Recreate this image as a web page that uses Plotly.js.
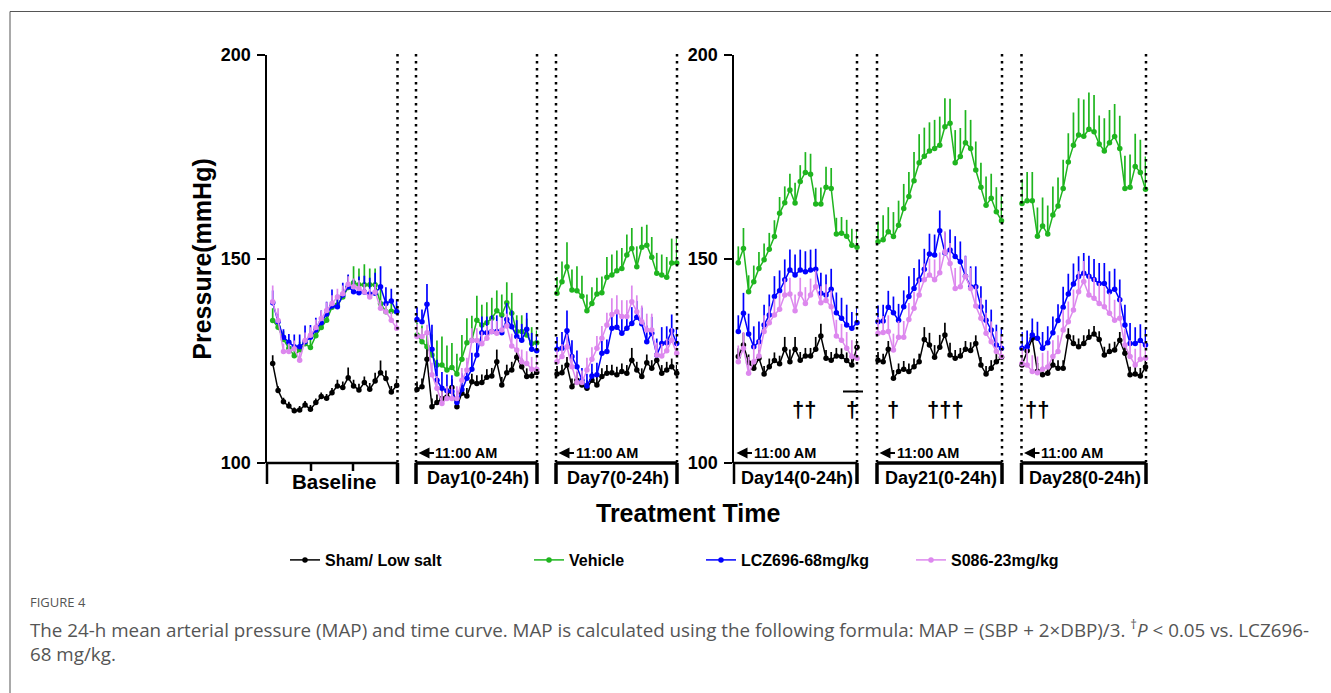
<!DOCTYPE html>
<html>
<head>
<meta charset="utf-8">
<script src="https://cdn.plot.ly/plotly-3.0.1.min.js"></script>
<style>html,body{margin:0;padding:0;background:#fff;}#chart{width:1331px;height:693px;}</style>
</head>
<body>
<div id="chart"></div>
<script>
// ---------------- DATA ----------------
const seriesNames = ['Sham/ Low salt', 'Vehicle', 'LCZ696-68mg/kg', 'S086-23mg/kg'];
const panelLabels = ['Baseline', 'Day1(0-24h)', 'Day7(0-24h)', 'Day14(0-24h)', 'Day21(0-24h)', 'Day28(0-24h)'];
const yTickVals = [100, 150, 200];
const yTickText = ['100', '150', '200'];
const clockLabel = '11:00 AM';

// Baseline (24 hourly means)
const shamBaseline    = [124.4,117.8,115.0,114.0,112.8,113.0,114.2,113.2,114.8,116.3,115.9,117.2,118.9,118.5,120.9,118.9,117.9,119.7,118.1,120.1,122.1,120.7,117.4,119.0];
const vehicleBaseline = [134.9,133.3,130.3,128.1,126.3,127.7,129.2,128.3,131.2,133.2,135.0,138.2,138.7,140.7,143.0,144.2,143.7,143.7,143.7,143.7,139.1,137.1,137.2,137.1];
const lczBaseline     = [139.3,134.6,130.8,129.6,128.5,128.5,129.7,130.8,132.6,134.4,136.5,138.5,138.3,141.2,143.2,142.0,141.7,141.9,141.4,141.6,143.2,139.1,139.7,137.1];
const s086Baseline    = [139.5,134.9,127.3,127.3,128.0,125.2,130.0,131.3,133.2,135.4,137.4,139.1,140.7,141.5,143.8,143.2,142.8,141.9,140.7,141.9,137.9,137.1,135.0,133.0];
const shamBaselineErr    = [2,1,1,1,0.8,1,1,1,1,1,1,1.2,1.5,1.5,2.5,1.5,1.5,1.5,1.5,2,3,2,1.5,1.5];
const vehicleBaselineErr = [3,2,2,2,2,2,2,2,3,2,2,2,2,2,3,4,4,5,4,4,4,3,2,2];
const lczBaselineErr     = [3,2,2,2,3,3,4,3,3,3,3,4,3,3,3,3,4,4,4,5,5,4,3,3];
const s086BaselineErr    = [4,3,2,2,2,2,2,2,2,2,2,2,2,2,2,2,2,2,2,2,2,2,2,2];

// Day 1 (0-24h)
const shamDay1    = [118.0,118.7,125.4,113.8,114.8,115.8,116.2,118.5,113.8,117.1,116.4,119.9,119.5,119.7,121.0,121.3,124.8,119.1,122.1,122.8,125.9,123.6,121.2,121.3,122.2];
const vehicleDay1 = [131.4,129.7,128.5,126.5,124.0,124.0,122.8,123.4,121.8,125.4,129.5,130.1,135.0,133.8,134.4,135.5,137.3,136.3,139.3,136.7,132.2,132.2,131.4,129.3,129.5];
const lczDay1     = [135.2,134.6,138.9,127.9,120.3,118.3,117.7,117.5,114.8,118.0,120.8,123.0,126.5,131.9,131.9,132.2,132.2,131.9,135.2,133.4,131.0,130.1,132.8,127.9,127.5];
const s086Day1    = [131.0,131.0,131.9,121.6,118.3,114.6,115.8,115.8,115.8,120.3,122.8,130.0,130.0,129.2,130.6,132.2,131.8,132.6,133.6,128.7,127.7,124.8,124.4,123.0,123.0];
const shamDay1Err    = [2,2,3,2,2,2,2,2,2,2,2,2,2,2,2,2,3,2,2,2,2,2,2,1.5,1.5];
const vehicleDay1Err = [3,4,4,5,6,7,6,6,5,6,6,6,6,5,5,5,5,5,5,5,4,4,4,4,3];
const lczDay1Err     = [3,3,5,6,5,4,4,4,3,4,4,4,4,4,4,4,4,4,4,4,4,4,4,4,4];
const s086Day1Err    = [3,2,2,3,3,3,3,3,3,3,3,3,3,3,3,3,3,3,3,3,3,3,3,3,3];

// Day 7 (0-24h)
const shamDay7    = [121.8,122.1,124.0,118.7,120.3,119.1,118.3,120.3,119.1,121.2,122.0,122.1,121.6,122.4,122.0,125.2,122.8,121.2,124.6,123.2,125.2,122.0,122.8,123.6,122.0];
const vehicleDay7 = [141.6,144.4,148.1,142.4,142.2,140.9,137.3,139.1,141.4,141.7,145.5,146.1,147.1,147.7,151.0,152.6,148.1,152.9,153.4,150.4,146.5,146.1,145.5,149.0,149.0];
const lczDay7     = [127.9,128.1,132.4,126.1,123.6,120.3,118.9,121.3,121.6,126.9,127.3,133.0,133.3,131.8,133.0,134.2,135.7,134.1,129.7,131.8,126.5,129.3,129.5,132.4,129.3];
const s086Day7    = [124.8,126.1,128.5,123.6,119.7,119.7,122.8,125.4,128.1,130.6,133.8,136.4,137.1,135.9,135.9,139.5,137.1,134.6,132.6,132.6,126.5,126.2,127.5,130.1,126.9];
const shamDay7Err    = [2,2,2,2,2,2,2,2,2,2,2,2,2,2,2,3,2,2,2,2,2,2,2,2,2];
const vehicleDay7Err = [4,5,6,5,6,5,4,4,4,4,5,5,5,5,5,5,5,5,5,5,5,5,5,6,6];
const lczDay7Err     = [3,4,5,4,4,3,3,3,3,3,3,4,4,4,4,4,4,4,4,4,4,4,4,4,4];
const s086Day7Err    = [3,3,3,3,3,3,3,3,3,3,3,4,4,4,4,4,4,4,4,4,3,3,3,3,3];

// Day 14 (0-24h)
const shamDay14    = [126.1,128.9,124.6,123.2,125.7,121.8,123.6,125.1,124.3,127.9,124.8,127.9,125.2,126.2,126.2,127.9,131.1,125.7,125.2,126.2,126.1,125.1,124.0,128.4];
const vehicleDay14 = [149.1,152.6,142.0,144.4,147.7,149.8,152.4,155.5,161.2,163.8,166.9,163.7,169.0,171.2,170.8,163.5,163.5,167.6,167.3,156.1,156.3,155.6,153.4,152.9];
const lczDay14     = [132.2,136.7,131.6,128.5,129.7,133.8,136.3,140.8,142.2,144.9,147.3,146.1,147.3,146.9,147.3,147.5,141.6,141.2,142.6,136.8,135.5,133.8,133.0,134.4];
const s086Day14    = [124.8,128.1,122.0,124.8,126.2,132.2,134.4,136.3,137.7,141.2,141.4,137.3,141.4,139.1,141.2,143.2,139.3,139.8,138.3,131.1,130.1,128.1,126.1,125.7];
const shamDay14Err    = [2,3,2,2,2,2,2,2,2,3,3,3,2,2,2,3,3,2,2,2,2,2,2,2];
const vehicleDay14Err = [4,5,4,4,4,4,4,4,4,4,4,5,4,5,5,4,4,5,5,4,4,4,4,4];
const lczDay14Err     = [4,5,5,5,5,5,5,5,5,5,5,5,5,5,5,5,5,5,5,5,5,5,4,4];
const s086Day14Err    = [4,4,4,4,4,4,4,4,4,4,4,4,4,4,4,4,4,4,4,4,4,4,4,3];

// Day 21 (0-24h)
const shamDay21    = [125.2,124.8,127.9,120.8,122.4,123.0,122.4,123.6,124.8,130.3,128.9,125.9,128.4,131.4,126.5,125.7,126.2,127.9,127.6,129.3,124.0,121.8,123.2,124.8,125.9];
const vehicleDay21 = [154.2,154.7,156.7,155.5,158.3,162.4,165.3,169.2,173.6,175.2,176.5,177.1,177.9,182.4,183.3,173.6,175.1,178.5,177.1,171.8,167.6,163.2,164.9,161.6,159.4];
const lczDay21     = [134.6,134.8,138.2,136.8,135.0,138.3,140.8,142.8,144.9,147.5,151.2,151.0,156.9,151.5,152.2,150.6,149.3,145.8,143.2,143.2,138.3,135.0,132.6,128.9,128.1];
const s086Day21    = [131.8,132.0,132.2,127.7,130.8,130.8,135.2,137.9,141.2,144.9,146.1,144.9,146.6,151.8,148.9,142.8,143.2,145.7,142.8,138.5,135.5,131.8,129.7,127.3,126.1];
const shamDay21Err    = [2,2,2,2,2,2,2,2,2,3,3,3,3,3,3,2,2,2,2,2,2,2,2,2,2];
const vehicleDay21Err = [5,6,6,6,6,6,6,7,7,7,7,7,7,7,6,8,7,8,7,7,6,7,6,6,6];
const lczDay21Err     = [4,4,4,4,4,4,5,5,5,5,5,5,5,5,5,5,5,5,5,5,5,5,5,5,5];
const s086Day21Err    = [4,4,4,4,4,4,4,4,4,4,4,5,5,5,5,5,5,5,5,5,5,5,5,5,5];

// Day 28 (0-24h)
const shamDay28    = [124.0,127.5,130.6,122.5,121.6,122.0,124.0,123.2,123.2,131.0,129.3,128.5,129.3,130.8,131.6,130.3,126.5,127.3,127.7,130.1,126.9,121.6,121.8,121.3,123.5];
const vehicleDay28 = [163.6,164.3,164.3,155.6,158.1,156.1,160.8,163.0,167.3,173.8,177.9,180.4,180.1,181.8,181.2,178.2,176.5,178.5,180.0,177.1,167.3,167.6,172.7,171.2,167.1];
const lczDay28     = [128.1,128.5,131.4,130.6,128.1,129.5,131.9,134.9,138.2,141.4,143.9,145.7,146.5,145.8,145.0,144.0,144.0,142.0,142.6,140.0,133.8,129.3,129.3,130.0,128.9];
const s086Day28    = [124.4,124.0,122.4,122.1,123.0,123.5,126.1,127.3,132.6,134.6,137.5,142.0,144.5,141.2,140.4,139.1,138.3,136.7,135.0,135.5,128.9,126.1,124.0,125.4,125.7];
const shamDay28Err    = [2,2,2,2,2,2,2,2,2,2,2,2,2,2,2,2,2,2,2,2,2,2,2,2,2];
const vehicleDay28Err = [6,7,7,7,7,7,7,7,7,7,8,9,9,9,9,7,8,8,8,8,8,8,8,8,8];
const lczDay28Err     = [4,4,4,4,4,4,4,4,5,5,5,5,5,5,5,5,5,5,5,5,5,5,4,4,4];
const s086Day28Err    = [4,4,4,4,4,4,4,4,5,5,5,5,5,5,5,5,5,5,5,5,4,4,4,4,4];

// significance marks (panel index, hour, text)
const sigPanel = [3, 3, 4, 4, 5];
const sigHour  = [12.7, 22.1, 2.9, 13.1, 2.9];
const sigText  = ['††', '†', '†', '†††', '††'];

// ---------------- STYLE / LAYOUT ----------------
const W = 1331, H = 693;
const FONT = 'Liberation Sans, Arial, Helvetica, sans-serif';
const px = x => x / W;
const py = y => 1 - y / H;
const colors = ['#000000', '#1fb51f', '#0000ff', '#dd88ee'];
const legendIds = ['legend', 'legend2', 'legend3', 'legend4'];
const legendLeft = [285, 529, 701, 911];

const panels = [
  {series:[shamBaseline, vehicleBaseline, lczBaseline, s086Baseline], errs:[shamBaselineErr, vehicleBaselineErr, lczBaselineErr, s086BaselineErr], left:267, right:397.5, first:272.7, last:396.7},
  {series:[shamDay1, vehicleDay1, lczDay1, s086Day1], errs:[shamDay1Err, vehicleDay1Err, lczDay1Err, s086Day1Err], left:416, right:537, first:417, last:536.7},
  {series:[shamDay7, vehicleDay7, lczDay7, s086Day7], errs:[shamDay7Err, vehicleDay7Err, lczDay7Err, s086Day7Err], left:556, right:677, first:557, last:676.7},
  {series:[shamDay14, vehicleDay14, lczDay14, s086Day14], errs:[shamDay14Err, vehicleDay14Err, lczDay14Err, s086Day14Err], left:734, right:857, first:738.3, last:857},
  {series:[shamDay21, vehicleDay21, lczDay21, s086Day21], errs:[shamDay21Err, vehicleDay21Err, lczDay21Err, s086Day21Err], left:877, right:1002, first:878, last:1001.5},
  {series:[shamDay28, vehicleDay28, lczDay28, s086Day28], errs:[shamDay28Err, vehicleDay28Err, lczDay28Err, s086Day28Err], left:1021.5, right:1146, first:1022, last:1145.5}
];

const Y_BOT = 463, Y_TOP = 55;
const traces = [];
const layout = {
  width: W, height: H,
  margin: {l:0, r:0, t:0, b:0},
  paper_bgcolor: '#ffffff', plot_bgcolor: 'rgba(0,0,0,0)',
  showlegend: true,
  font: {family: FONT, color: '#000'},
  shapes: [], annotations: []
};

panels.forEach((p, i) => {
  const xa = i === 0 ? 'x' : 'x' + (i + 1);
  const ya = i < 3 ? 'y' : 'y2';
  const n = p.series[0].length;
  const step = (p.last - p.first) / (n - 1);
  layout[i === 0 ? 'xaxis' : 'xaxis' + (i + 1)] = {
    domain: [px(p.left), px(p.right)],
    range: [-(p.first - p.left) / step, (n - 1) + (p.right - p.last) / step],
    anchor: ya, visible: false, fixedrange: true
  };
  p.series.forEach((vals, s) => {
    traces.push({
      type: 'scatter', mode: 'lines+markers',
      x: vals.map((_, k) => k), y: vals,
      xaxis: xa, yaxis: ya,
      name: seriesNames[s], legend: legendIds[s], showlegend: i === 0,
      line: {color: colors[s], width: 1.5},
      marker: {color: colors[s], size: 5.5},
      error_y: {type: 'data', symmetric: false, array: p.errs[s], arrayminus: vals.map(() => 0),
                color: colors[s], thickness: 1.7, width: 0},
      cliponaxis: false, hoverinfo: 'skip'
    });
  });
});

const yCommon = {
  domain: [py(Y_BOT), py(Y_TOP)], range: [100, 200],
  tickvals: yTickVals, ticktext: yTickText,
  ticks: 'outside', ticklen: 8, tickwidth: 2.5, tickcolor: '#000',
  showline: true, linewidth: 2.5, linecolor: '#000',
  showgrid: false, zeroline: false, fixedrange: true, ticklabelstandoff: 2,
  tickfont: {family: FONT, size: 18, weight: 'bold', color: '#000'}
};
layout.yaxis = Object.assign({}, yCommon, {anchor: 'x',
  title: {text: 'Pressure(mmHg)', font: {family: FONT, size: 25, weight: 'bold', color: '#000'}, standoff: 2}});
layout.yaxis2 = Object.assign({}, yCommon, {anchor: 'x4'});

// legends
legendIds.forEach((id, s) => {
  layout[id] = {orientation: 'h', x: px(legendLeft[s]), xanchor: 'left', y: py(560), yanchor: 'middle',
    bgcolor: 'rgba(0,0,0,0)', borderwidth: 0,
    font: {family: FONT, size: 16, weight: 'bold', color: '#000'}};
});

// frame
const line = (x0, y0, x1, y1, w, extra) => Object.assign({type: 'line', xref: 'paper', yref: 'paper',
  x0: px(x0), y0: py(y0), x1: px(x1), y1: py(y1), line: {color: '#000', width: w}}, extra || {});
layout.shapes.push(line(10, 11.5, W, 11.5, 1, {line: {color: '#555', width: 1}}));
layout.shapes.push(line(10, 11.5, 10, H, 1, {line: {color: '#555', width: 1}}));

// dotted dividers
const dotted = {line: {color: '#000', width: 2.5, dash: '2.5px,4.5px'}};
[[397.5], [416, 537], [556, 677], [857], [877, 1002], [1021.5, 1146]].forEach(arr => {
  arr.forEach(x => layout.shapes.push(line(x, Y_TOP - 1, x, Y_BOT, 2.5, dotted)));
});

// brackets under each panel
const BR = 484;
panels.forEach((p, i) => {
  const isAxisPanel = (i === 0 || i === 3);
  layout.shapes.push(line(p.left, Y_BOT, p.right, Y_BOT, isAxisPanel ? 2.5 : 3.5));
  layout.shapes.push(line(p.left, Y_BOT, p.left, BR, isAxisPanel ? 2.5 : 3.5));
  layout.shapes.push(line(p.right, Y_BOT, p.right, BR, 3.5));
});
layout.shapes.push(line(311, Y_BOT, 311, 471, 2.5));
layout.shapes.push(line(353, Y_BOT, 353, 471, 2.5));
// significance bar (Day14 last hours)
layout.shapes.push(line(843, 391.5, 863, 391.5, 2));

// panel labels
const labelFont = (sz) => ({family: FONT, size: sz, weight: 'bold', color: '#000'});
panels.forEach((p, i) => {
  layout.annotations.push({xref: 'paper', yref: 'paper', xanchor: 'center', yanchor: 'middle',
    x: px((p.left + p.right) / 2 + 1.5), y: py(i === 0 ? 481 : 478),
    text: panelLabels[i], showarrow: false, font: labelFont(i === 0 ? 20.5 : 18)});
  if (i > 0) {
    layout.annotations.push({xref: 'paper', yref: 'paper', x: px(p.left + 2.5), y: py(453),
      text: clockLabel, showarrow: true, ax: 48, ay: 0, arrowhead: 2, arrowsize: 1, arrowwidth: 2.2,
      arrowcolor: '#000', font: labelFont(14.5)});
  }
});

// significance daggers
sigText.forEach((t, k) => {
  const pi = sigPanel[k];
  layout.annotations.push({xref: 'x' + (pi + 1), yref: 'y2', x: sigHour[k], y: 113,
    xanchor: 'center', yanchor: 'middle',
    text: t, showarrow: false, font: labelFont(22)});
});

// axis title for x
layout.annotations.push({xref: 'paper', yref: 'paper', x: px(688), y: py(513), xanchor: 'center', yanchor: 'middle',
  text: 'Treatment Time', showarrow: false, font: labelFont(25)});

// caption
const capFont = {family: 'Open Sans, Noto Sans, sans-serif', size: 18.8, color: '#555'};
layout.annotations.push({xref: 'paper', yref: 'paper', x: px(28), y: py(602), xanchor: 'left', yanchor: 'middle',
  text: 'FIGURE 4', showarrow: false, font: {family: 'Open Sans, Noto Sans, sans-serif', size: 13, color: '#555'}});
layout.annotations.push({xref: 'paper', yref: 'paper', x: px(28), y: py(641), xanchor: 'left', yanchor: 'middle', align: 'left',
  text: 'The 24-h mean arterial pressure (MAP) and time curve. MAP is calculated using the following formula: MAP = (SBP + 2×DBP)/3. <sup>†</sup><i>P</i> &lt; 0.05 vs. LCZ696-<br>68 mg/kg.',
  showarrow: false, font: capFont});

Plotly.newPlot('chart', traces, layout, {staticPlot: true, displayModeBar: false});
</script>
</body>
</html>
